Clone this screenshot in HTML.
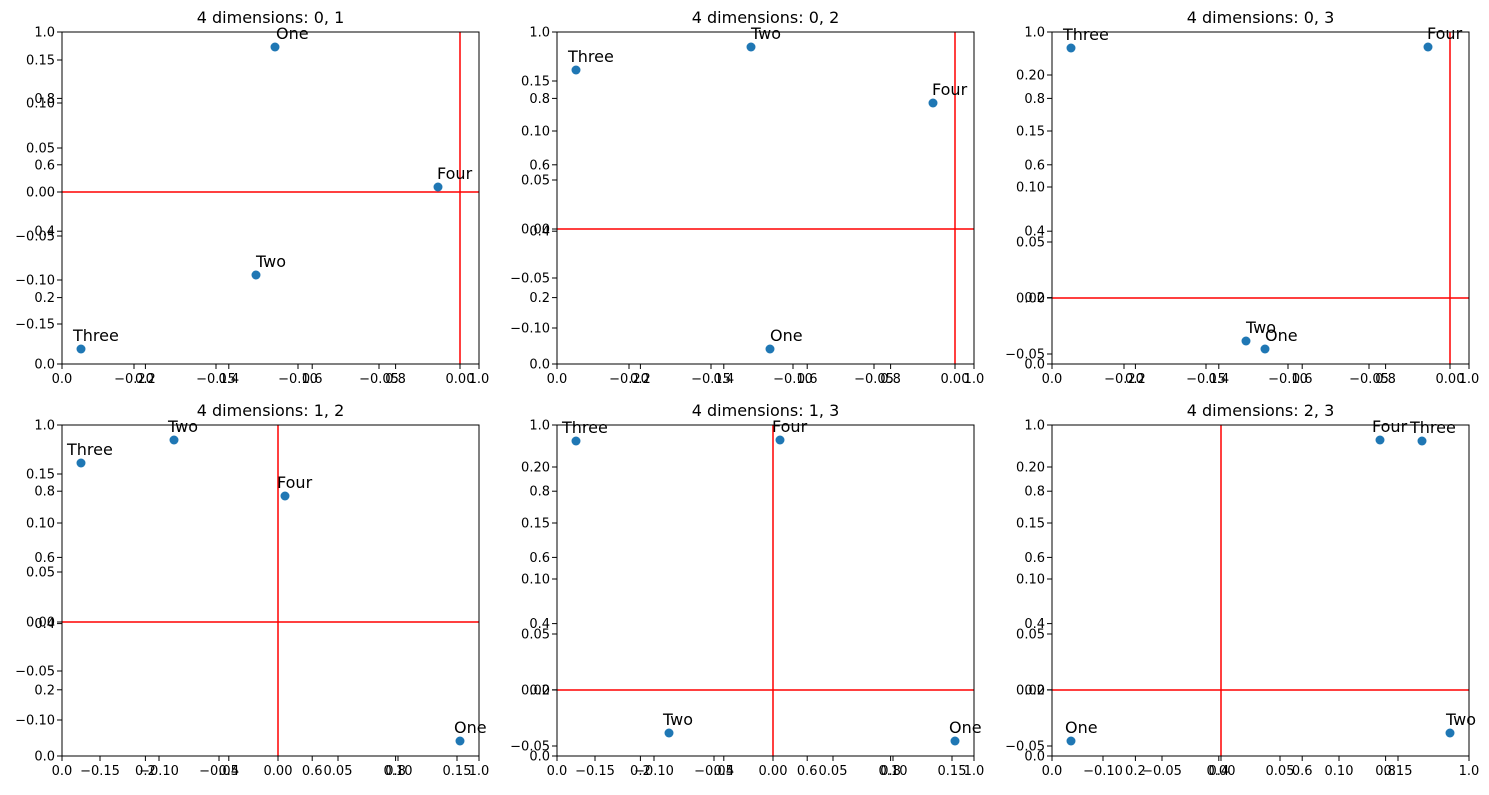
<!DOCTYPE html>
<html><head><meta charset="utf-8"><style>
html,body{margin:0;padding:0;background:#fff;}
svg text{font-family:"DejaVu Sans","Liberation Sans",sans-serif;}
</style></head><body>
<svg id="s" width="1489" height="790" xmlns="http://www.w3.org/2000/svg"></svg>
<script>
const P=[
{x0:62,y0:32,b:364,t:"4 dimensions: 0, 1",
 xt:[[-0.20,134],[-0.15,216],[-0.10,298],[-0.05,379],[0.00,460]],
 yt:[[0.15,60],[0.10,103],[0.05,148],[0.00,192],[-0.05,236],[-0.10,280],[-0.15,324]],
 pts:[["One",275,47,1],["Four",438,187,-1],["Two",256,275,0],["Three",81,349,-8]],rv:460,rh:192},
{x0:557,y0:32,b:364,t:"4 dimensions: 0, 2",
 xt:[[-0.20,629],[-0.15,711],[-0.10,793],[-0.05,874],[0.00,955]],
 yt:[[0.15,81],[0.10,131],[0.05,180],[0.00,229],[-0.05,278],[-0.10,328]],
 pts:[["Three",576,70,-8],["Two",751,47,0],["Four",933,103,-1],["One",770,349,0]],rv:955,rh:229},
{x0:1052,y0:32,b:364,t:"4 dimensions: 0, 3",
 xt:[[-0.20,1124],[-0.15,1206],[-0.10,1288],[-0.05,1369],[0.00,1450]],
 yt:[[0.20,75],[0.15,131],[0.10,187],[0.05,242],[0.00,298],[-0.05,354]],
 pts:[["Three",1071,48,-8],["Four",1428,47,-1],["Two",1246,341,0],["One",1265,349,0]],rv:1450,rh:298},
{x0:62,y0:425,b:756,t:"4 dimensions: 1, 2",
 xt:[[-0.15,100],[-0.10,159],[-0.05,219],[0.00,278],[0.05,338],[0.10,398],[0.15,457]],
 yt:[[0.15,474],[0.10,523],[0.05,572],[0.00,622],[-0.05,671],[-0.10,720]],
 pts:[["Three",81,463,-14],["Two",174,440,-6],["Four",285,496,-8],["One",460,741,-6]],rv:278,rh:622},
{x0:557,y0:425,b:756,t:"4 dimensions: 1, 3",
 xt:[[-0.15,595],[-0.10,654],[-0.05,714],[0.00,773],[0.05,833],[0.10,893],[0.15,952]],
 yt:[[0.20,467],[0.15,523],[0.10,579],[0.05,634],[0.00,690],[-0.05,746]],
 pts:[["Three",576,441,-14],["Four",780,440,-8],["Two",669,733,-6],["One",955,741,-6]],rv:773,rh:690},
{x0:1052,y0:425,b:756,t:"4 dimensions: 2, 3",
 xt:[[-0.10,1103],[-0.05,1162],[0.00,1221],[0.05,1280],[0.10,1339],[0.15,1398]],
 yt:[[0.20,467],[0.15,523],[0.10,579],[0.05,634],[0.00,690],[-0.05,746]],
 pts:[["One",1071,741,-6],["Four",1380,440,-8],["Three",1422,441,-12],["Two",1450,733,-4]],rv:1221,rh:690}
];
const W=417;
function f(v){let s=Math.abs(v).toFixed(2);return (v<-1e-9?"\u2212":"")+s;}
let h="";
for(const p of P){
 const x1=p.x0+W,H=p.b-p.y0;
 h+=`<text x="${p.x0+W/2}" y="${p.y0-9}" font-size="16" text-anchor="middle">${p.t}</text>`;
 h+=`<line x1="${p.x0}" y1="${p.rh}" x2="${x1}" y2="${p.rh}" stroke="#ff0000" stroke-width="1.5"/>`;
 h+=`<line x1="${p.rv}" y1="${p.y0}" x2="${p.rv}" y2="${p.b}" stroke="#ff0000" stroke-width="1.5"/>`;
 for(const [n,x,y,dx] of p.pts){
  h+=`<circle cx="${x}" cy="${y}" r="4.5" fill="#1f77b4"/>`;
  h+=`<text x="${x+dx}" y="${y-8}" font-size="16">${n}</text>`;
 }
 h+=`<rect x="${p.x0}" y="${p.y0}" width="${W}" height="${H}" fill="none" stroke="#000" stroke-width="1"/>`;
 const ticks=[];
 for(let k=0;k<=5;k++){const v=(k*0.2).toFixed(1);ticks.push(["x",p.x0+k*W/5,v]);ticks.push(["y",p.b-k*H/5,v]);}
 for(const [v,x] of p.xt)ticks.push(["x",x,f(v)]);
 for(const [v,y] of p.yt)ticks.push(["y",y,f(v)]);
 for(const [a,q,l] of ticks){
  if(a=="x"){h+=`<line x1="${q}" y1="${p.b}" x2="${q}" y2="${p.b+5}" stroke="#000"/><text x="${q}" y="${p.b+19}" font-size="13" text-anchor="middle">${l}</text>`;}
  else{h+=`<line x1="${p.x0-5}" y1="${q}" x2="${p.x0}" y2="${q}" stroke="#000"/><text x="${p.x0-7}" y="${q+4.5}" font-size="13" text-anchor="end">${l}</text>`;}
 }
}
document.getElementById("s").innerHTML=h;
</script>
</body></html>
